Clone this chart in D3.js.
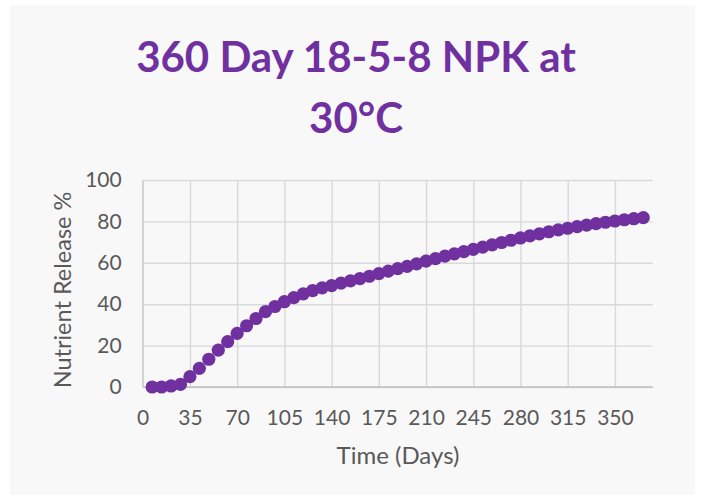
<!DOCTYPE html>
<html>
<head>
<meta charset="utf-8">
<script src="https://cdn.jsdelivr.net/npm/d3@7"></script>
<style>
  body { margin: 0; background: #fff; }
  text { font-family: Lato, "Open Sans", sans-serif; }
</style>
</head>
<body>
<div id="chart"></div>
<script>
var titleLines = ["360 Day 18-5-8 NPK at", "30\u00B0C"];
var xTitle = "Time (Days)";
var yTitle = "Nutrient Release %";

var days = [7, 14, 21, 28, 35, 42, 49, 56, 63, 70,
  77, 84, 91, 98, 105, 112, 119, 126, 133, 140,
  147, 154, 161, 168, 175, 182, 189, 196, 203, 210,
  217, 224, 231, 238, 245, 252, 259, 266, 273, 280,
  287, 294, 301, 308, 315, 322, 329, 336, 343, 350,
  357, 364, 371];
var release = [0, 0, 0.5, 1.3, 5.0, 9.0, 13.4, 17.8, 21.9, 25.9,
  29.6, 33.1, 36.4, 38.9, 41.2, 43.2, 45.0, 46.6, 47.9, 49.0,
  50.2, 51.3, 52.4, 53.5, 54.8, 56.0, 57.2, 58.3, 59.5, 60.8,
  62.0, 63.2, 64.3, 65.4, 66.5, 67.6, 68.7, 69.8, 70.9, 72.0,
  73.0, 74.0, 75.0, 75.9, 76.7, 77.5, 78.2, 78.9, 79.6, 80.2,
  80.8, 81.3, 81.8];

var xTicks = [0, 35, 70, 105, 140, 175, 210, 245, 280, 315, 350];
var yTicks = [0, 20, 40, 60, 80, 100];

var width = 705, height = 502;
var purple = "#7030a0";

var svg = d3.select("#chart").append("svg")
  .attr("width", width)
  .attr("height", height);

// chart area background
svg.append("rect")
  .attr("x", 10).attr("y", 5)
  .attr("width", 685).attr("height", 490)
  .attr("fill", "#f8f8f8");

var x = d3.scaleLinear().domain([0, 378]).range([142.7, 652.7]);
var y = d3.scaleLinear().domain([0, 100]).range([387, 180]);

// gridlines + tick labels
var xAxis = svg.append("g")
  .attr("transform", "translate(0," + y(0) + ")")
  .call(d3.axisBottom(x).tickValues(xTicks).tickSize(-(y(0) - y(100))).tickPadding(23));
var yAxis = svg.append("g")
  .attr("transform", "translate(" + x(0) + ",0)")
  .call(d3.axisLeft(y).tickValues(yTicks).tickSize(-(x(378) - x(0))).tickPadding(21));

[xAxis, yAxis].forEach(function(g) {
  g.select(".domain").remove();
  g.selectAll(".tick line").attr("stroke", "#d9d9d9").attr("stroke-width", 1.4);
  g.selectAll(".tick text")
    .attr("fill", "#595959")
    .style("font-size", "21px")
    .style("font-family", "Lato, 'Open Sans', sans-serif");
});

// axis lines
svg.append("line")
  .attr("x1", x(0)).attr("x2", x(378))
  .attr("y1", y(0)).attr("y2", y(0))
  .attr("stroke", "#bfbfbf").attr("stroke-width", 1.4);
svg.append("line")
  .attr("x1", x(0)).attr("x2", x(0))
  .attr("y1", y(0)).attr("y2", y(100))
  .attr("stroke", "#d0d0d0").attr("stroke-width", 1.4);

// markers
var pts = days.map(function(d, i) { return [d, release[i]]; });
svg.append("g").selectAll("circle")
  .data(pts)
  .enter().append("circle")
  .attr("cx", function(d) { return x(d[0]); })
  .attr("cy", function(d) { return y(d[1]); })
  .attr("r", 6.6)
  .attr("fill", purple);

// titles
svg.selectAll(".title")
  .data(titleLines)
  .enter().append("text")
  .attr("class", "title")
  .attr("x", 356)
  .attr("y", function(d, i) { return 72 + i * 61; })
  .attr("text-anchor", "middle")
  .attr("fill", purple)
  .style("font-size", "42px")
  .style("font-weight", "bold")
  .text(function(d) { return d; });

svg.append("text")
  .attr("x", 398).attr("y", 464)
  .attr("text-anchor", "middle")
  .attr("fill", "#595959")
  .style("font-size", "24px")
  .text(xTitle);

svg.append("text")
  .attr("transform", "translate(71,290) rotate(-90)")
  .attr("text-anchor", "middle")
  .attr("fill", "#595959")
  .style("font-size", "23.5px")
  .text(yTitle);
</script>
</body>
</html>
